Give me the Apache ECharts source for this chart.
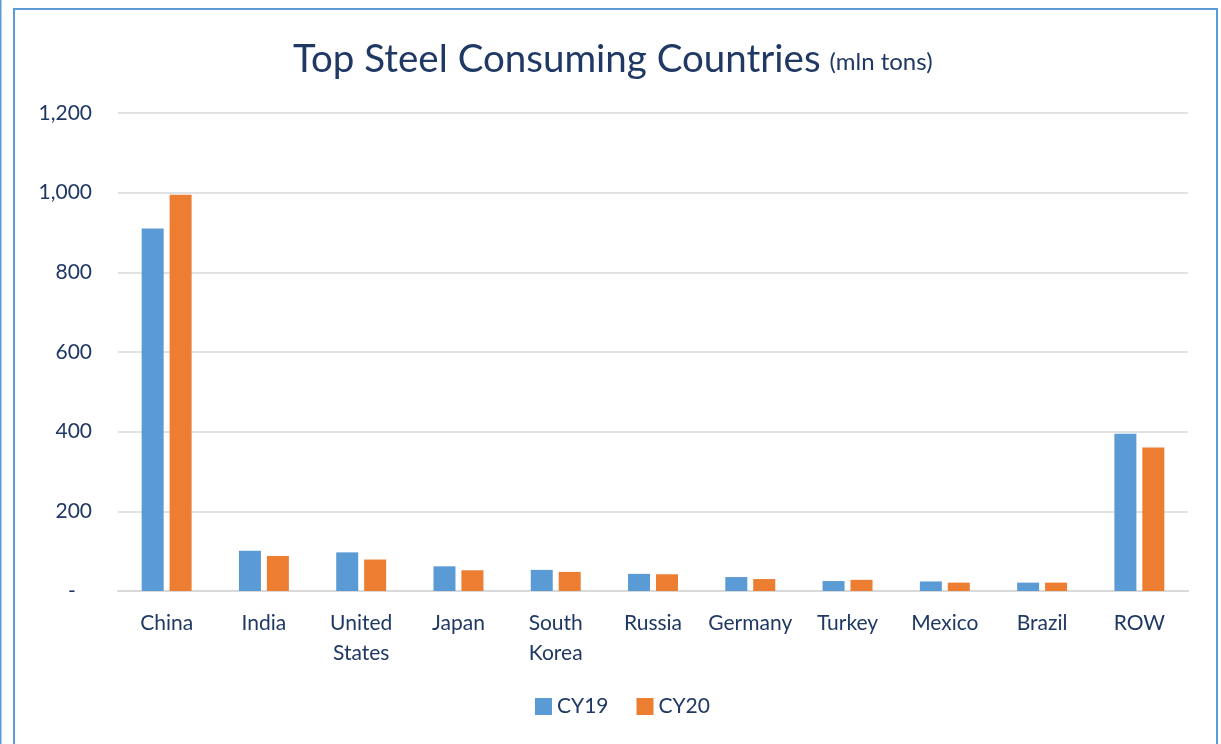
<!DOCTYPE html>
<html>
<head>
<meta charset="utf-8">
<script src="https://cdn.jsdelivr.net/npm/echarts@6/dist/echarts.min.js"></script>
<style>
  html, body { margin: 0; padding: 0; background: #fff; }
  #chart { width: 1221px; height: 744px; }
</style>
</head>
<body>
<div id="chart"></div>
<script>
// Apparent steel use by country, million tonnes
const countries = ['China', 'India', 'United\nStates', 'Japan', 'South\nKorea', 'Russia',
                   'Germany', 'Turkey', 'Mexico', 'Brazil', 'ROW'];
const cy19 = [910, 101, 97, 62, 53, 43, 35, 25, 24, 21, 395];
const cy20 = [995, 88, 79, 52, 48, 42, 30, 28, 21, 21, 360];
const yTicks = [0, 200, 400, 600, 800, 1000, 1200];

const navy = '#1F3864';
const font = 'Lato, "Open Sans", sans-serif';

const chart = echarts.init(document.getElementById('chart'));
chart.setOption({
  backgroundColor: '#fff',
  textStyle: { fontFamily: font, color: navy },
  title: {
    text: '{main|Top Steel Consuming Countries}{unit|(mln tons)}',
    left: 288,
    top: 35,
    textStyle: {
      fontWeight: 'normal',
      rich: {
        main: { fontFamily: font, fontSize: 38.5, fontWeight: 'normal', color: navy },
        unit: { fontFamily: font, fontSize: 24, fontWeight: 'normal', color: navy,
                verticalAlign: 'bottom', padding: [0, 0, 5, 9] }
      }
    }
  },
  legend: {
    data: ['CY19', 'CY20'],
    bottom: 22,
    left: 530,
    itemWidth: 17,
    itemHeight: 17,
    itemGap: 28,
    icon: 'rect',
    textStyle: { fontFamily: font, fontSize: 21, color: navy }
  },
  grid: { left: 118, right: 33, top: 113, bottom: 153 },
  xAxis: {
    type: 'category',
    data: countries,
    axisTick: { show: false },
    axisLine: { lineStyle: { color: '#D9D9D9', width: 2 } },
    axisLabel: { fontFamily: font, fontSize: 21, color: navy, margin: 17, lineHeight: 30, interval: 0 }
  },
  yAxis: {
    type: 'value',
    min: yTicks[0],
    max: yTicks[yTicks.length - 1],
    interval: yTicks[1] - yTicks[0],
    axisLine: { show: false },
    axisTick: { show: false },
    splitLine: { lineStyle: { color: '#D9D9D9', width: 1.5 } },
    axisLabel: {
      fontFamily: font, fontSize: 21, color: navy, margin: 26,
      // accounting-style zero: a dash set in from the right edge
      formatter: v => v === 0 ? '-\u00a0\u00a0\u00a0' : v.toLocaleString('en-US')
    }
  },
  series: [
    { name: 'CY19', type: 'bar', data: cy19, barWidth: 22, barGap: '27%',
      itemStyle: { color: '#5B9BD5' } },
    { name: 'CY20', type: 'bar', data: cy20, barWidth: 22,
      itemStyle: { color: '#ED7D31' } }
  ],
  graphic: [
    { type: 'line', shape: { x1: 0.5, y1: 0, x2: 0.5, y2: 744 },
      style: { stroke: '#5B9BD5', lineWidth: 2 } },
    { type: 'rect', shape: { x: 14, y: 9, width: 1203, height: 760 },
      style: { fill: null, stroke: '#5B9BD5', lineWidth: 2 } }
  ]
});
</script>
</body>
</html>
